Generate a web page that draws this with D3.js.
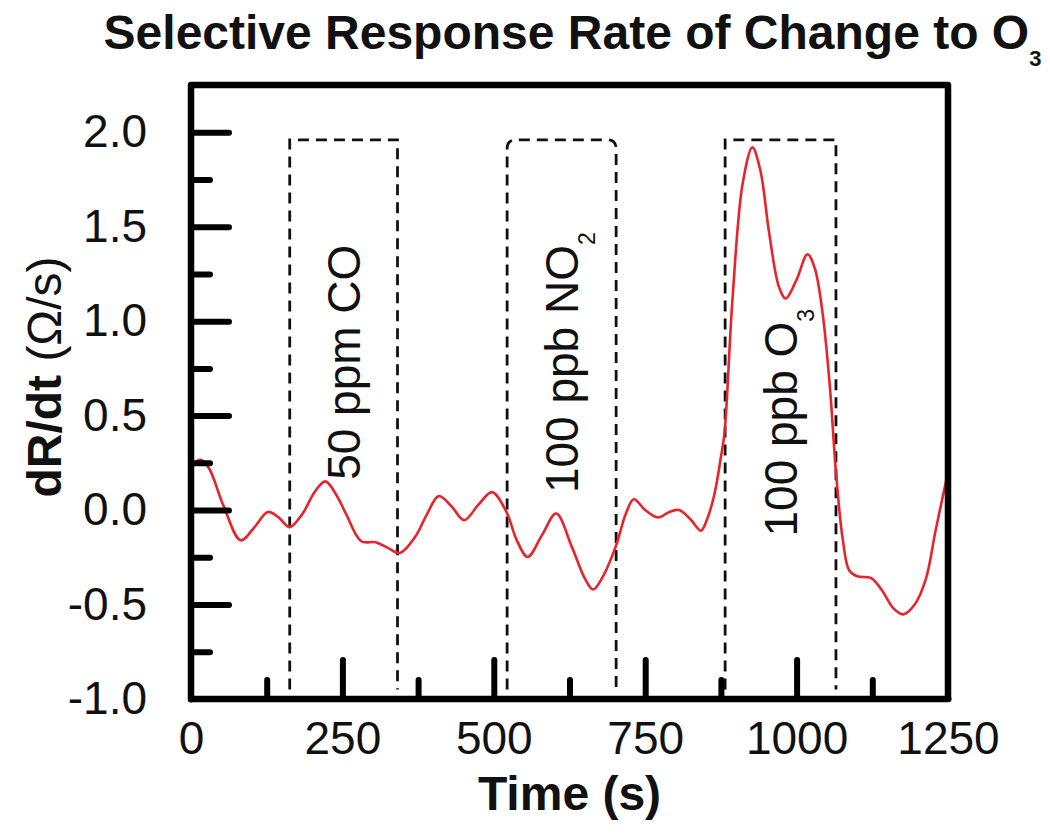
<!DOCTYPE html>
<html>
<head>
<meta charset="utf-8">
<script src="https://cdn.jsdelivr.net/npm/d3@7"></script>
<style>
  html, body { margin: 0; padding: 0; background: #fff; }
  svg { display: block; }
  text { font-family: "Liberation Sans", Arial, Helvetica, sans-serif; fill: #111; }
</style>
</head>
<body>
<svg id="chart" width="1050" height="837"></svg>
<script>
// ---------- data ----------
const timeS = [0, 8, 17, 30, 54, 82, 105, 127, 145, 163, 184, 205, 222, 240, 256, 281, 305, 325, 345,
  370, 390, 409, 430, 451, 475, 497, 520, 538, 556, 580, 603, 629, 650, 664, 682, 702, 718, 731,
  750, 771, 790, 806, 825, 842, 852, 864, 875, 881, 894, 911, 927, 940, 955, 971, 982, 1000, 1018,
  1030, 1043, 1055, 1065, 1076, 1087, 1100, 1123, 1140, 1160, 1176, 1195, 1213, 1230, 1250];
const dRdt = [0.22, 0.255, 0.265, 0.22, 0.02, -0.16, -0.09, -0.01, -0.04, -0.09, -0.02, 0.10, 0.152, 0.08, -0.02, -0.165, -0.17, -0.20, -0.227,
  -0.143, -0.02, 0.074, 0.02, -0.053, 0.03, 0.095, -0.004, -0.16, -0.248, -0.13, -0.018, -0.196, -0.36, -0.42, -0.34, -0.187, -0.02, 0.057,
  0.0, -0.039, -0.01, 0.0, -0.05, -0.109, -0.05, 0.08, 0.28, 0.41, 1.11, 1.73, 1.92, 1.80, 1.46, 1.18, 1.12, 1.22, 1.354,
  1.28, 1.04, 0.65, 0.2, -0.15, -0.32, -0.35, -0.36, -0.42, -0.52, -0.552, -0.5, -0.37, -0.1, 0.2];

const gasNames = ["50 ppm CO", "100 ppb NO", "100 ppb O"];
const gasSubs = ["", "2", "3"];
const exposureStart = [163, 522, 882];
const exposureEnd = [341, 702, 1065];
const boxTopValue = 1.96;
const boxBottomValue = -0.95;
const labelStartValue = [0.16, 0.09, -0.14];

const xMajorTicks = [0, 250, 500, 750, 1000, 1250];
const xMinorTicks = [125, 375, 625, 875, 1125];
const yMajorTicks = [-1.0, -0.5, 0.0, 0.5, 1.0, 1.5, 2.0];
const yMinorTicks = [-0.75, -0.25, 0.25, 0.75, 1.25, 1.75];

const titleMain = "Selective Response Rate of Change to O";
const titleSub = "3";
const xTitle = "Time (s)";
const yTitleBold = "dR/dt ";
const yTitleRegular = "(\u03A9/s)";

// ---------- layout ----------
const svg = d3.select("#chart");
const L = 191, R = 948, T = 85, B = 699;
const x = d3.scaleLinear().domain([0, 1250]).range([L, R]);
const y = d3.scaleLinear().domain([-1, 2.25]).range([B, T]);

// dashed exposure boxes
const boxes = svg.append("g");
gasNames.forEach((name, i) => {
  const x0 = x(exposureStart[i]), x1 = x(exposureEnd[i]);
  const yt = y(boxTopValue), yb = y(boxBottomValue);
  let d;
  if (gasSubs[i] === "2") {
    const r = 9;
    d = `M${x0},${yb} V${yt + r} Q${x0},${yt} ${x0 + r},${yt} H${x1 - r} Q${x1},${yt} ${x1},${yt + r} V${yb}`;
  } else {
    d = `M${x0},${yb} V${yt} H${x1} V${yb}`;
  }
  boxes.append("path").attr("d", d)
    .attr("fill", "none").attr("stroke", "#111").attr("stroke-width", 2.8)
    .attr("stroke-dasharray", "11,7");

  const cx = (x0 + x1) / 2 + 16;
  const sy = y(labelStartValue[i]);
  const t = boxes.append("text")
    .attr("transform", `translate(${cx},${sy}) rotate(-90)`)
    .attr("font-size", 46).attr("text-anchor", "start");
  t.append("tspan").text(name);
  if (gasSubs[i]) {
    t.append("tspan").attr("font-size", 23).attr("dy", 17).text(gasSubs[i]);
  }
});

// curve
const pts = timeS.map((t, i) => [t, dRdt[i]]);
svg.append("path")
  .datum(pts)
  .attr("fill", "none")
  .attr("stroke", "#e8232b")
  .attr("stroke-width", 2.6)
  .attr("d", d3.line().x(d => x(d[0])).y(d => y(d[1])).curve(d3.curveCatmullRom.alpha(0.5)));

// axes ticks (inward)
function styleAxis(g) {
  g.select(".domain").remove();
  g.selectAll(".tick line").attr("stroke", "#000").attr("stroke-width", 6).attr("stroke-linecap", "round");
  g.selectAll(".tick text").attr("font-size", 46).attr("fill", "#111")
    .style("font-family", '"Liberation Sans", Arial, sans-serif');
}
const fmt = d => d.toFixed(1);

svg.append("g").attr("transform", `translate(${L},0)`)
  .call(d3.axisLeft(y).tickValues(yMajorTicks.filter(v => v > -1)).tickSizeInner(-38).tickSizeOuter(0).tickPadding(44).tickFormat(fmt))
  .call(styleAxis);
svg.append("g").attr("transform", `translate(${L},0)`)
  .call(d3.axisLeft(y).tickValues(yMinorTicks).tickSizeInner(-19).tickSizeOuter(0).tickFormat(""))
  .call(styleAxis);
// -1.0 label (tick coincides with frame)
svg.append("g").attr("transform", `translate(${L},0)`)
  .call(d3.axisLeft(y).tickValues([-1.0]).tickSizeInner(0).tickSizeOuter(0).tickPadding(44).tickFormat(fmt))
  .call(styleAxis);

svg.append("g").attr("transform", `translate(0,${B})`)
  .call(d3.axisBottom(x).tickValues(xMajorTicks.filter(v => v > 0 && v < 1250)).tickSizeInner(-39).tickSizeOuter(0).tickFormat(""))
  .call(styleAxis);
svg.append("g").attr("transform", `translate(0,${B})`)
  .call(d3.axisBottom(x).tickValues(xMinorTicks).tickSizeInner(-19).tickSizeOuter(0).tickFormat(""))
  .call(styleAxis);
svg.append("g").attr("transform", `translate(0,${B})`)
  .call(d3.axisBottom(x).tickValues(xMajorTicks).tickSizeInner(0).tickSizeOuter(0).tickPadding(22).tickFormat(d => String(d)))
  .call(styleAxis);

// frame
svg.append("rect")
  .attr("x", L).attr("y", T).attr("width", R - L).attr("height", B - T)
  .attr("fill", "none").attr("stroke", "#000").attr("stroke-width", 6.5).attr("stroke-linejoin", "round");

// title
const title = svg.append("text").attr("x", (L + R) / 2 + 3).attr("y", 49)
  .attr("text-anchor", "middle").attr("font-size", 48).attr("font-weight", "bold");
title.append("tspan").text(titleMain);
title.append("tspan").attr("font-size", 22).attr("dy", 17).text(titleSub);

// x title
svg.append("text").attr("x", (L + R) / 2).attr("y", 810)
  .attr("text-anchor", "middle").attr("font-size", 48).attr("font-weight", "bold").text(xTitle);

// y title
const yt = svg.append("text").attr("transform", `translate(61,377) rotate(-90)`)
  .attr("text-anchor", "middle").attr("font-size", 48);
yt.append("tspan").attr("font-weight", "bold").text(yTitleBold);
yt.append("tspan").attr("font-weight", "normal").text(yTitleRegular);
</script>
</body>
</html>
